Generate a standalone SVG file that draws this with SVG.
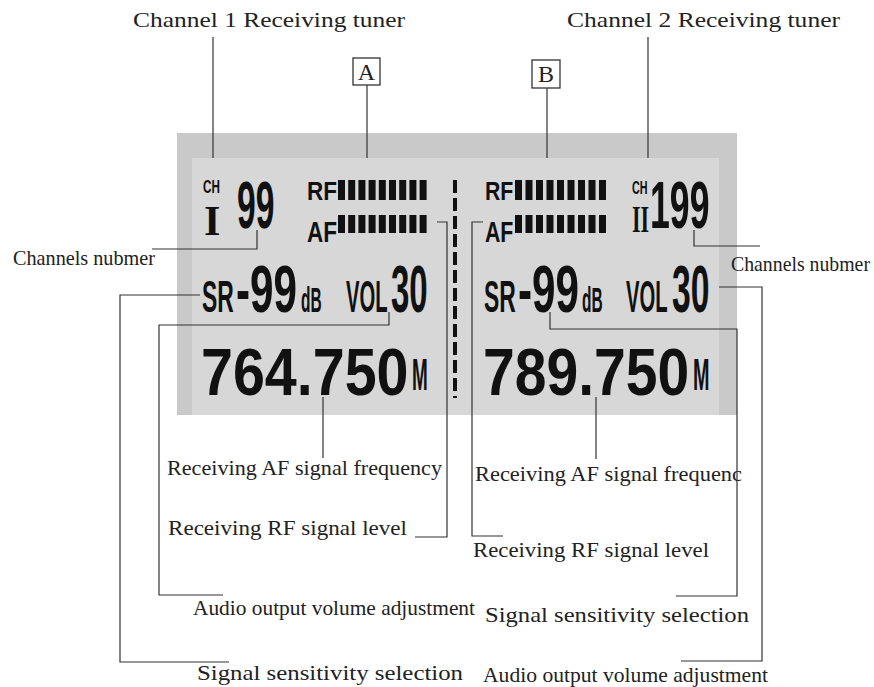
<svg xmlns="http://www.w3.org/2000/svg" width="874" height="687" viewBox="0 0 874 687">
<style>
.lbl{font-family:"Liberation Serif","DejaVu Serif",serif;font-size:22px;fill:#222;}
.lcd{font-family:"Liberation Sans","DejaVu Sans",sans-serif;font-weight:bold;fill:#111;}
.rom{font-family:"Liberation Serif","DejaVu Serif",serif;font-weight:bold;fill:#111;}
.cn{fill:none;stroke:#333;stroke-width:1.2;}
.bar{fill:#111;}
</style>
<rect x="0" y="0" width="874" height="687" fill="#fff"/>
<g id="lcd-panel">
<rect x="177" y="133" width="560" height="282" fill="#c9c9c9"/>
<rect x="192" y="158" width="527" height="257" fill="#d7d7d7"/>
<line x1="455" y1="180" x2="455" y2="398" stroke="#111" stroke-width="4" stroke-dasharray="13 5"/>
</g>
<g id="channel1-display">
<text class="lcd" font-size="18" transform="translate(203,193) scale(0.65,1)">CH</text>
<text class="rom" font-size="42" transform="translate(204,235) scale(1,1)">I</text>
<text class="lcd" font-size="66" transform="translate(237,228) scale(0.51,1)">99</text>
<text class="lcd" font-size="25" transform="translate(307,200) scale(0.9,1)">RF</text>
<text class="lcd" font-size="30" transform="translate(307,242) scale(0.75,1)">AF</text>
<g class="bar">
<rect x="338" y="180" width="7" height="20"/><rect x="348.2" y="180" width="7" height="20"/><rect x="358.4" y="180" width="7" height="20"/><rect x="368.6" y="180" width="7" height="20"/><rect x="378.8" y="180" width="7" height="20"/><rect x="389" y="180" width="7" height="20"/><rect x="399.2" y="180" width="7" height="20"/><rect x="409.4" y="180" width="7" height="20"/><rect x="419.6" y="180" width="7" height="20"/>
<rect x="338" y="215" width="7" height="18"/><rect x="348.2" y="215" width="7" height="18"/><rect x="358.4" y="215" width="7" height="18"/><rect x="368.6" y="215" width="7" height="18"/><rect x="378.8" y="215" width="7" height="18"/><rect x="389" y="215" width="7" height="18"/><rect x="399.2" y="215" width="7" height="18"/><rect x="409.4" y="215" width="7" height="18"/><rect x="419.6" y="215" width="7" height="18"/>
</g>
<text class="lcd" font-size="44" transform="translate(202,312) scale(0.52,1)">SR</text>
<text class="lcd" font-size="66" transform="translate(236,312) scale(0.64,1)">-99</text>
<text class="lcd" font-size="36" transform="translate(301,312) scale(0.43,1)">dB</text>
<text class="lcd" font-size="44" transform="translate(346,312) scale(0.46,1)">VOL</text>
<text class="lcd" font-size="66" transform="translate(391,312) scale(0.5,1)">30</text>
<text class="lcd" font-size="66" transform="translate(201,395) scale(0.87,1)">764.750</text>
<text class="lcd" font-size="44" transform="translate(412,390) scale(0.43,1)">M</text>
</g>
<g id="channel2-display">
<text class="lcd" font-size="25" transform="translate(485,200) scale(0.85,1)">RF</text>
<text class="lcd" font-size="30" transform="translate(485,242) scale(0.71,1)">AF</text>
<g class="bar">
<rect x="515" y="180" width="7" height="20"/><rect x="525.5" y="180" width="7" height="20"/><rect x="536" y="180" width="7" height="20"/><rect x="546.5" y="180" width="7" height="20"/><rect x="557" y="180" width="7" height="20"/><rect x="567.5" y="180" width="7" height="20"/><rect x="578" y="180" width="7" height="20"/><rect x="588.5" y="180" width="7" height="20"/><rect x="599" y="180" width="7" height="20"/>
<rect x="515" y="215" width="7" height="18"/><rect x="525.5" y="215" width="7" height="18"/><rect x="536" y="215" width="7" height="18"/><rect x="546.5" y="215" width="7" height="18"/><rect x="557" y="215" width="7" height="18"/><rect x="567.5" y="215" width="7" height="18"/><rect x="578" y="215" width="7" height="18"/><rect x="588.5" y="215" width="7" height="18"/><rect x="599" y="215" width="7" height="18"/>
</g>
<text class="lcd" font-size="18" transform="translate(632,194) scale(0.6,1)">CH</text>
<text class="rom" font-size="38" transform="translate(632,232) scale(0.58,1)">II</text>
<text class="lcd" font-size="66" transform="translate(650,228) scale(0.54,1)">199</text>
<text class="lcd" font-size="44" transform="translate(484,312) scale(0.52,1)">SR</text>
<text class="lcd" font-size="66" transform="translate(518,312) scale(0.64,1)">-99</text>
<text class="lcd" font-size="36" transform="translate(582,312) scale(0.43,1)">dB</text>
<text class="lcd" font-size="44" transform="translate(626,312) scale(0.46,1)">VOL</text>
<text class="lcd" font-size="66" transform="translate(672,312) scale(0.51,1)">30</text>
<text class="lcd" font-size="66" transform="translate(483,395) scale(0.865,1)">789.750</text>
<text class="lcd" font-size="44" transform="translate(693,390) scale(0.45,1)">M</text>
</g>
<g id="box-A">
<rect x="353" y="58" width="27" height="27" fill="#fff" stroke="#222" stroke-width="1.2"/>
<text x="366.5" y="80" font-family="Liberation Serif,serif" font-size="24" fill="#222" text-anchor="middle">A</text>
</g>
<g id="box-B">
<rect x="532" y="60" width="28" height="28" fill="#fff" stroke="#222" stroke-width="1.2"/>
<text x="546" y="82" font-family="Liberation Serif,serif" font-size="24" fill="#222" text-anchor="middle">B</text>
</g>
<g id="labels">
<text class="lbl" x="133" y="27" textLength="272" lengthAdjust="spacingAndGlyphs">Channel 1 Receiving tuner</text>
<text class="lbl" x="567" y="27" textLength="273" lengthAdjust="spacingAndGlyphs">Channel 2 Receiving tuner</text>
<text class="lbl" x="13" y="265" textLength="142" lengthAdjust="spacingAndGlyphs">Channels nubmer</text>
<text class="lbl" transform="translate(731,271) scale(0.9,1)">Channels nubmer</text>
<text class="lbl" x="167" y="475" textLength="275" lengthAdjust="spacingAndGlyphs">Receiving AF signal frequency</text>
<text class="lbl" x="168" y="535" textLength="239" lengthAdjust="spacingAndGlyphs">Receiving RF signal level</text>
<text class="lbl" x="193" y="615" textLength="282" lengthAdjust="spacingAndGlyphs">Audio output volume adjustment</text>
<text class="lbl" x="197" y="680" textLength="266" lengthAdjust="spacingAndGlyphs">Signal sensitivity selection</text>
<text class="lbl" x="475" y="481" textLength="267" lengthAdjust="spacingAndGlyphs">Receiving AF signal frequenc</text>
<text class="lbl" x="473" y="557" textLength="236" lengthAdjust="spacingAndGlyphs">Receiving RF signal level</text>
<text class="lbl" x="485" y="622" textLength="264" lengthAdjust="spacingAndGlyphs">Signal sensitivity selection</text>
<text class="lbl" x="483" y="682" textLength="285" lengthAdjust="spacingAndGlyphs">Audio output volume adjustment</text>
</g>
<g id="connectors">
<path class="cn" d="M213,37 V158"/>
<path class="cn" d="M367,85 V158"/>
<path class="cn" d="M547,88 V158"/>
<path class="cn" d="M648,37 V158"/>
<path class="cn" d="M152,249 H257 V230"/>
<path class="cn" d="M200,295 H120 V662 H229"/>
<path class="cn" d="M389,312 V325 H159 V595 H223"/>
<path class="cn" d="M323,397 V458"/>
<path class="cn" d="M437,222 H447 V537 H415"/>
<path class="cn" d="M483,222 H472 V536 H503"/>
<path class="cn" d="M596,397 V459"/>
<path class="cn" d="M550,312 V329 H737 V596 H676"/>
<path class="cn" d="M719,287 H762 V661 H681"/>
<path class="cn" d="M694,230 V246 H760"/>
</g>
</svg>
